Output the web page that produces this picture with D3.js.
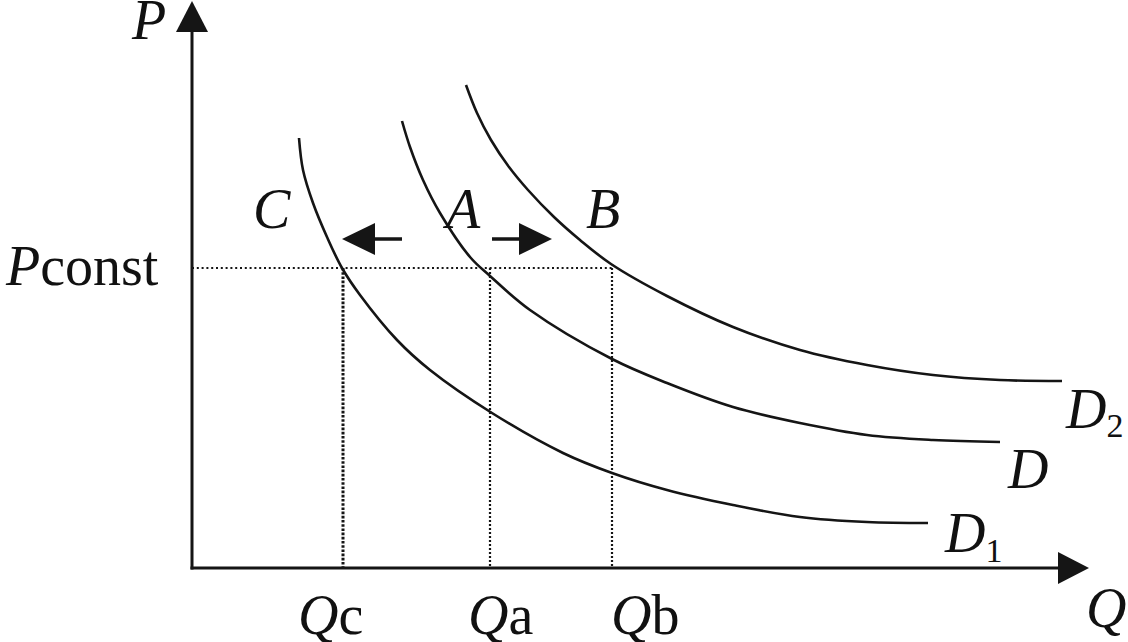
<!DOCTYPE html>
<html>
<head>
<meta charset="utf-8">
<script src="https://cdn.jsdelivr.net/npm/d3@7"></script>
<style>
  html, body { margin: 0; padding: 0; background: #fff; }
  svg { display: block; }
  text { font-family: "Liberation Serif", "Times New Roman", serif; fill: #111; }
</style>
</head>
<body>
<svg id="chart" width="1128" height="642"></svg>
<script>
// ---- Data (Q = quantity, P = price, arbitrary units) ----
const curveNames = ["D1", "D", "D2"];
const d1Q = [107, 111, 121, 135, 150, 168, 205, 238, 300, 371, 420, 475, 541, 608, 675, 736];
const d1P = [430, 398, 365, 331, 300, 273, 228, 198, 155, 115, 95, 78, 63, 51, 46, 45];
const dQ  = [210, 218, 231, 248, 278, 298, 338, 420, 475, 541, 608, 675, 741, 808];
const dP  = [447, 421, 388, 355, 311, 292, 258, 209, 185, 161, 145, 133, 128, 126];
const d2Q = [274, 285, 299, 317, 336, 362, 388, 419, 475, 541, 608, 675, 741, 808, 870];
const d2P = [483, 455, 428, 401, 378, 351, 328, 304, 272, 241, 218, 203, 193, 188, 187];
const pConst = 300;
const qMarks = ["Qc", "Qa", "Qb"];
const qMarkValues = [151, 298, 420];
const pointLabels = ["C", "A", "B"];
const qMax = 900, pMax = 568;

// ---- Scales ----
const svg = d3.select("#chart");
const x = d3.scaleLinear().domain([0, qMax]).range([192, 1092]);
const y = d3.scaleLinear().domain([0, pMax]).range([568, 0]);
const ink = "#151515";

const series = [
  d1Q.map((q, i) => [q, d1P[i]]),
  dQ.map((q, i) => [q, dP[i]]),
  d2Q.map((q, i) => [q, d2P[i]])
];

// ---- Dotted guide lines ----
svg.append("line")
  .attr("x1", x(0)).attr("x2", x(qMarkValues[2]))
  .attr("y1", y(pConst)).attr("y2", y(pConst))
  .attr("stroke", ink).attr("stroke-width", 2)
  .attr("stroke-dasharray", "2,2.8");

qMarkValues.forEach((q, i) => {
  svg.append("line")
    .attr("x1", x(q)).attr("x2", x(q))
    .attr("y1", y(pConst)).attr("y2", y(0))
    .attr("stroke", ink).attr("stroke-width", i === 0 ? 3 : 2.2)
    .attr("stroke-dasharray", i === 0 ? "2.6,1.6" : "2,2");
});

// ---- Demand curves ----
const line = d3.line()
  .x(d => x(d[0])).y(d => y(d[1]))
  .curve(d3.curveCatmullRom.alpha(0.5));

svg.selectAll("path.demand")
  .data(series)
  .join("path")
  .attr("class", "demand")
  .attr("d", line)
  .attr("fill", "none")
  .attr("stroke", ink)
  .attr("stroke-width", 2.6);

// ---- Axes with arrowheads ----
const axW = 3, headL = 31, headW = 16;
const xTip = x(qMax) - 3, yTip = y(pMax) + 1;
svg.append("line")
  .attr("x1", x(0) - 1.5).attr("x2", xTip - headL + 1)
  .attr("y1", y(0)).attr("y2", y(0))
  .attr("stroke", ink).attr("stroke-width", axW);
svg.append("path")
  .attr("d", `M${xTip},${y(0)} L${xTip - headL},${y(0) - headW} L${xTip - headL},${y(0) + headW} Z`)
  .attr("fill", ink);
svg.append("line")
  .attr("x1", x(0)).attr("x2", x(0))
  .attr("y1", y(0) + 1.5).attr("y2", yTip + headL - 1)
  .attr("stroke", ink).attr("stroke-width", axW);
svg.append("path")
  .attr("d", `M${x(0)},${yTip} L${x(0) - headW},${yTip + headL} L${x(0) + headW},${yTip + headL} Z`)
  .attr("fill", ink);

// ---- Shift arrows (at A, pointing to C and B) ----
function arrow(fromQ, toQ, pLevel) {
  const y0 = y(pLevel);
  const x0 = x(fromQ), x1 = x(toQ);
  const dir = Math.sign(x1 - x0);
  const hl = 33, hw = 16;
  svg.append("line")
    .attr("x1", x0).attr("x2", x1 - dir * (hl - 1))
    .attr("y1", y0).attr("y2", y0)
    .attr("stroke", ink).attr("stroke-width", 3.5);
  svg.append("path")
    .attr("d", `M${x1},${y0} L${x1 - dir * hl},${y0 - hw} L${x1 - dir * hl},${y0 + hw} Z`)
    .attr("fill", ink);
}
arrow(210, 150, 329);
arrow(300, 360, 329);

// ---- Labels ----
const fs = 56;
function label(px, py, parts, size) {
  const t = svg.append("text").attr("x", px).attr("y", py)
    .attr("font-size", size || fs);
  parts.forEach(p => {
    const s = t.append("tspan").text(p.t);
    if (p.i) s.attr("font-style", "italic");
    if (p.sub) s.attr("font-size", p.sub).attr("dy", p.dy);
  });
  return t;
}
label(132, 39, [{t: "P", i: true}]);
label(1086, 627, [{t: "Q", i: true}]);
label(6, 285, [{t: "P", i: true}, {t: "const"}]);

qMarks.forEach((m, i) => {
  const off = [-45, -22, -1][i];
  label(x(qMarkValues[i]) + off, 634, [{t: m[0], i: true}, {t: m.slice(1)}]);
});

const pointX = [253, 446, 586];
pointLabels.forEach((l, i) => label(pointX[i], 228, [{t: l, i: true}]));

label(1066, 428, [{t: "D", i: true}, {t: "2", sub: 34, dy: 9}]);
label(1008, 488, [{t: "D", i: true}]);
label(945, 552, [{t: "D", i: true}, {t: "1", sub: 34, dy: 10}]);
</script>
</body>
</html>
